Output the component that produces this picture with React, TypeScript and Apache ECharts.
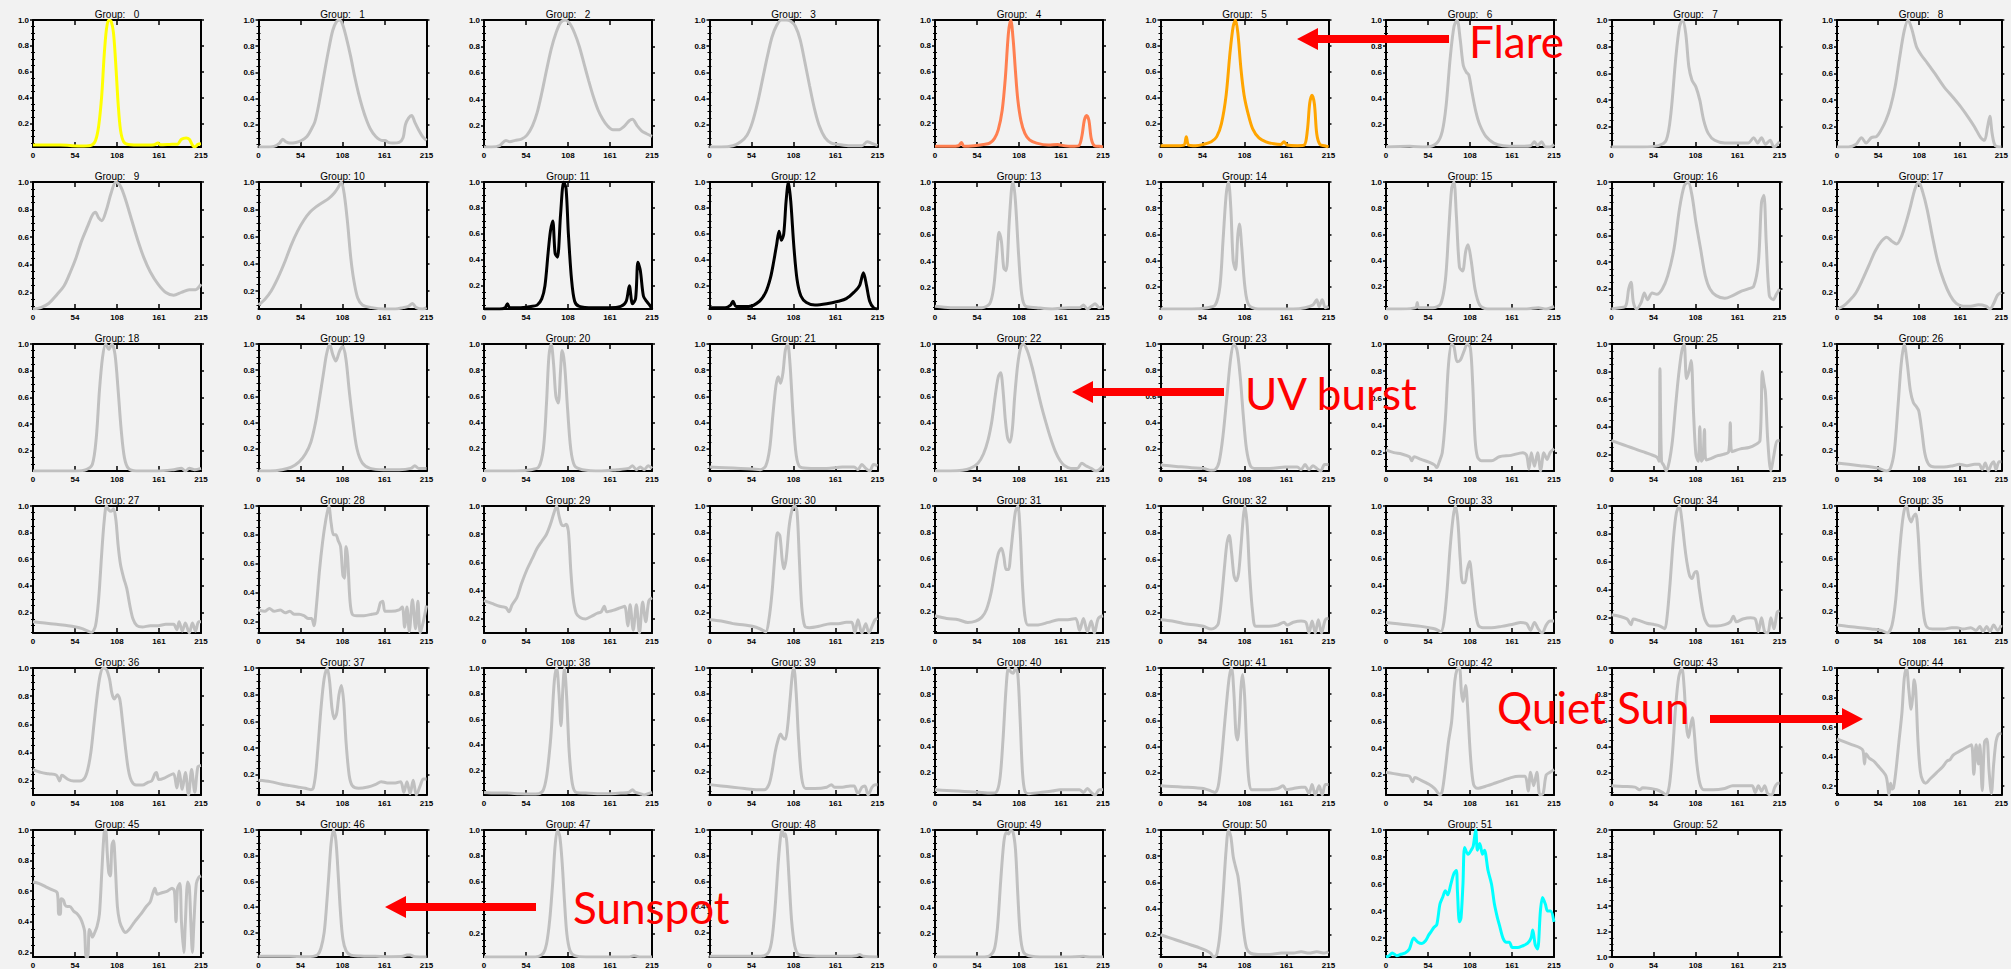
import React, { useEffect, useRef } from "react";
import * as echarts from "echarts";

// ---------- tick values / labels ----------
const X_TICKS = [0, 53.75, 107.5, 161.25, 215];
const X_TICK_LABELS = ["0", "54", "108", "161", "215"];
const Y_TICKS = [0.2, 0.4, 0.6, 0.8, 1.0];
const Y_TICKS_EMPTY = [1.0, 1.2, 1.4, 1.6, 1.8, 2.0];

// ---------- profiles: [index, normalised intensity] ----------
const G0 = [[0,0.035],[20,0.035],[35,0.036],[50,0.03],[65,0.028],[75,0.034],[80,0.07],[84,0.18],[88,0.42],[91,0.72],[94,0.93],[97,1.0],[100,0.99],[103,0.9],[106,0.65],[109,0.35],[112,0.15],[116,0.06],[122,0.04],[140,0.035],[155,0.038],[160,0.05],[163,0.038],[175,0.04],[185,0.042],[190,0.08],[196,0.09],[200,0.08],[204,0.035],[207,0.02],[211,0.04],[215,0.045]];
const G1 = [[0,0.03],[10,0.03],[20,0.035],[27,0.06],[31,0.09],[35,0.07],[40,0.06],[48,0.065],[55,0.08],[62,0.11],[68,0.17],[72,0.22],[76,0.32],[80,0.45],[85,0.62],[90,0.78],[95,0.92],[100,0.99],[104,1.0],[108,0.96],[113,0.85],[118,0.72],[123,0.57],[128,0.44],[133,0.33],[138,0.24],[143,0.17],[150,0.11],[158,0.08],[162,0.08],[166,0.065],[172,0.06],[180,0.065],[185,0.1],[188,0.2],[192,0.25],[196,0.27],[200,0.22],[205,0.16],[210,0.11],[215,0.08]];
const G2 = [[0,0.04],[10,0.04],[20,0.05],[28,0.09],[33,0.08],[40,0.09],[48,0.1],[55,0.13],[62,0.2],[68,0.3],[74,0.45],[80,0.62],[86,0.78],[92,0.9],[98,0.98],[104,1.0],[110,0.97],[116,0.9],[122,0.8],[128,0.67],[134,0.54],[140,0.42],[146,0.32],[152,0.25],[158,0.2],[165,0.17],[172,0.17],[180,0.2],[186,0.24],[190,0.25],[196,0.2],[202,0.16],[208,0.14],[215,0.12]];
const G3 = [[0,0.03],[15,0.03],[30,0.04],[40,0.07],[48,0.12],[55,0.22],[62,0.38],[68,0.55],[74,0.72],[80,0.87],[86,0.96],[92,1.0],[98,1.0],[104,0.99],[110,0.95],[116,0.85],[122,0.68],[128,0.5],[134,0.33],[140,0.2],[148,0.1],[156,0.06],[165,0.05],[180,0.04],[195,0.04],[202,0.07],[207,0.06],[215,0.04]];
const G4 = [[0,0.02],[20,0.02],[30,0.025],[34,0.05],[37,0.02],[50,0.025],[62,0.035],[70,0.045],[76,0.08],[81,0.15],[86,0.3],[90,0.55],[94,0.9],[97,1.0],[100,0.85],[103,0.6],[106,0.38],[110,0.22],[115,0.12],[121,0.07],[130,0.045],[145,0.03],[157,0.035],[160,0.03],[175,0.02],[184,0.025],[188,0.1],[191,0.22],[194,0.26],[197,0.22],[200,0.08],[204,0.025],[210,0.02],[215,0.015]];
const G5 = [[0,0.03],[20,0.03],[30,0.035],[33,0.1],[36,0.035],[45,0.03],[55,0.04],[65,0.06],[72,0.1],[78,0.2],[84,0.42],[89,0.75],[93,0.95],[96,1.0],[99,0.9],[103,0.62],[107,0.42],[112,0.28],[118,0.16],[126,0.09],[135,0.06],[145,0.045],[154,0.04],[158,0.06],[162,0.035],[175,0.03],[184,0.035],[188,0.15],[191,0.36],[194,0.42],[197,0.35],[200,0.12],[204,0.04],[210,0.03],[215,0.02]];
const G6 = [[0,0.03],[30,0.035],[50,0.03],[65,0.06],[72,0.15],[77,0.35],[82,0.7],[87,0.95],[91,1.0],[95,0.85],[99,0.65],[103,0.6],[106,0.58],[110,0.45],[115,0.3],[120,0.2],[128,0.11],[138,0.06],[150,0.04],[170,0.035],[185,0.04],[190,0.07],[194,0.04],[199,0.07],[204,0.03],[210,0.03],[215,0.05]];
const G7 = [[0,0.05],[20,0.05],[40,0.05],[60,0.06],[70,0.1],[76,0.3],[82,0.7],[87,0.95],[91,1.0],[95,0.9],[99,0.65],[103,0.55],[108,0.5],[113,0.4],[118,0.25],[124,0.15],[132,0.1],[145,0.08],[160,0.08],[175,0.08],[182,0.12],[187,0.08],[192,0.12],[197,0.07],[203,0.1],[208,0.05],[215,0.09]];
const G8 = [[0,0.05],[15,0.05],[25,0.07],[32,0.12],[38,0.08],[45,0.12],[52,0.13],[58,0.18],[64,0.25],[70,0.35],[76,0.5],[82,0.72],[88,0.92],[93,1.0],[98,0.93],[104,0.8],[110,0.74],[118,0.68],[128,0.6],[140,0.5],[152,0.42],[162,0.35],[172,0.27],[180,0.2],[188,0.12],[193,0.1],[197,0.2],[200,0.28],[203,0.15],[207,0.06],[215,0.05]];
const G9 = [[0,0.08],[10,0.09],[20,0.12],[30,0.18],[40,0.25],[48,0.35],[55,0.45],[62,0.57],[70,0.68],[76,0.76],[80,0.78],[84,0.74],[88,0.72],[94,0.8],[100,0.92],[106,1.0],[112,0.97],[118,0.88],[126,0.73],[134,0.58],[142,0.45],[150,0.35],[160,0.26],[170,0.2],[180,0.18],[190,0.2],[200,0.22],[208,0.22],[215,0.26]];
const G10 = [[0,0.1],[8,0.14],[16,0.2],[25,0.3],[34,0.42],[42,0.54],[50,0.64],[58,0.72],[66,0.78],[74,0.82],[82,0.85],[90,0.88],[97,0.92],[102,0.96],[106,1.0],[110,0.9],[114,0.7],[118,0.45],[122,0.28],[127,0.15],[133,0.1],[145,0.08],[160,0.07],[175,0.07],[185,0.08],[192,0.09],[197,0.11],[202,0.08],[210,0.07],[215,0.08]];
const G11 = [[0,0.02],[20,0.02],[27,0.03],[30,0.06],[33,0.03],[45,0.03],[60,0.04],[68,0.05],[74,0.1],[78,0.2],[82,0.45],[85,0.62],[88,0.7],[91,0.45],[94,0.42],[98,0.75],[102,1.0],[105,0.95],[108,0.6],[112,0.25],[116,0.08],[122,0.04],[140,0.03],[160,0.03],[175,0.04],[182,0.08],[186,0.2],[190,0.06],[194,0.1],[197,0.38],[200,0.32],[204,0.12],[208,0.08],[212,0.05],[215,0.02]];
const G12 = [[0,0.03],[20,0.03],[27,0.05],[30,0.08],[34,0.04],[50,0.04],[64,0.08],[72,0.15],[78,0.26],[82,0.38],[86,0.52],[89,0.62],[92,0.55],[95,0.6],[98,0.85],[101,1.0],[104,0.85],[108,0.5],[112,0.25],[117,0.12],[124,0.07],[135,0.05],[150,0.06],[165,0.08],[175,0.1],[185,0.15],[192,0.2],[197,0.3],[201,0.2],[205,0.08],[210,0.03],[215,0.02]];
const G13 = [[0,0.06],[20,0.05],[40,0.05],[60,0.05],[70,0.08],[75,0.2],[79,0.45],[82,0.62],[85,0.55],[88,0.35],[91,0.33],[95,0.7],[98,0.95],[100,1.0],[103,0.85],[107,0.45],[111,0.15],[116,0.06],[130,0.05],[150,0.04],[170,0.05],[185,0.05],[190,0.07],[195,0.04],[200,0.06],[205,0.08],[210,0.05],[215,0.06]];
const G14 = [[0,0.03],[20,0.03],[40,0.03],[60,0.04],[70,0.06],[76,0.2],[80,0.55],[84,0.9],[87,1.0],[90,0.8],[93,0.4],[96,0.33],[99,0.6],[101,0.68],[104,0.5],[108,0.2],[113,0.06],[125,0.03],[150,0.03],[170,0.03],[185,0.04],[195,0.06],[200,0.1],[203,0.05],[207,0.1],[211,0.04],[215,0.05]];
const G15 = [[0,0.03],[20,0.03],[38,0.04],[40,0.08],[42,0.04],[60,0.04],[70,0.07],[76,0.25],[80,0.6],[84,0.95],[87,1.0],[90,0.75],[94,0.35],[98,0.32],[102,0.47],[105,0.52],[109,0.4],[114,0.18],[120,0.06],[130,0.03],[160,0.03],[180,0.03],[195,0.04],[205,0.03],[215,0.05]];
const G16 = [[0,0.05],[10,0.06],[18,0.07],[22,0.2],[25,0.25],[28,0.1],[32,0.05],[38,0.1],[42,0.17],[46,0.12],[52,0.17],[58,0.16],[65,0.2],[72,0.3],[80,0.5],[87,0.8],[93,0.97],[98,1.0],[103,0.9],[108,0.7],[114,0.5],[120,0.3],[126,0.2],[134,0.15],[145,0.13],[155,0.15],[165,0.18],[175,0.2],[182,0.22],[188,0.4],[192,0.85],[195,0.9],[198,0.55],[202,0.15],[207,0.12],[211,0.16],[215,0.2]];
const G17 = [[0,0.08],[8,0.1],[16,0.14],[25,0.2],[34,0.3],[42,0.4],[50,0.5],[58,0.57],[65,0.6],[72,0.57],[78,0.55],[84,0.6],[90,0.7],[96,0.82],[102,0.95],[107,1.0],[112,0.93],[118,0.8],[125,0.6],[132,0.42],[140,0.28],[148,0.18],[156,0.12],[165,0.1],[175,0.1],[185,0.11],[195,0.1],[200,0.08],[205,0.12],[210,0.18],[215,0.2]];
const G18 = [[0,0.05],[20,0.05],[40,0.05],[55,0.05],[68,0.06],[76,0.1],[81,0.3],[85,0.65],[89,0.9],[93,1.0],[97,0.96],[101,1.0],[105,0.92],[109,0.65],[113,0.35],[117,0.15],[122,0.07],[132,0.05],[160,0.05],[180,0.06],[190,0.07],[195,0.05],[200,0.07],[207,0.06],[215,0.07]];
const G19 = [[0,0.03],[15,0.03],[30,0.04],[42,0.06],[52,0.1],[60,0.16],[67,0.25],[73,0.4],[78,0.58],[83,0.77],[87,0.92],[91,1.0],[95,0.92],[99,0.87],[104,0.95],[108,0.98],[112,0.88],[116,0.65],[121,0.4],[126,0.2],[133,0.09],[143,0.05],[160,0.04],[180,0.04],[195,0.05],[200,0.07],[205,0.05],[215,0.05]];
const G20 = [[0,0.03],[20,0.03],[40,0.03],[60,0.04],[70,0.06],[76,0.2],[80,0.55],[83,0.9],[86,1.0],[89,0.85],[92,0.6],[95,0.55],[98,0.8],[100,0.95],[103,0.85],[107,0.5],[111,0.2],[116,0.07],[126,0.04],[150,0.03],[170,0.04],[185,0.05],[190,0.07],[195,0.04],[200,0.06],[205,0.04],[210,0.07],[215,0.05]];
const G21 = [[0,0.06],[20,0.055],[40,0.05],[55,0.045],[65,0.04],[72,0.07],[77,0.2],[81,0.45],[85,0.68],[88,0.75],[91,0.7],[94,0.78],[97,0.95],[100,1.0],[103,0.85],[107,0.45],[111,0.15],[116,0.06],[130,0.05],[150,0.05],[170,0.06],[185,0.06],[190,0.04],[195,0.08],[200,0.05],[205,0.03],[210,0.08],[215,0.07]];
const G22 = [[0,0.03],[20,0.03],[35,0.035],[45,0.05],[55,0.09],[62,0.16],[68,0.27],[73,0.42],[77,0.6],[81,0.75],[84,0.78],[87,0.65],[90,0.42],[93,0.28],[96,0.25],[99,0.35],[102,0.6],[106,0.85],[110,0.98],[113,1.0],[118,0.95],[124,0.83],[130,0.68],[136,0.53],[142,0.4],[148,0.28],[154,0.18],[160,0.11],[166,0.07],[174,0.05],[182,0.05],[188,0.09],[193,0.07],[200,0.05],[206,0.03],[210,0.04],[215,0.07]];
const G23 = [[0,0.075],[20,0.065],[40,0.055],[55,0.05],[65,0.035],[70,0.04],[75,0.1],[80,0.3],[85,0.6],[90,0.9],[94,1.0],[98,0.95],[102,0.75],[106,0.45],[110,0.2],[115,0.07],[120,0.05],[140,0.05],[160,0.06],[175,0.06],[180,0.04],[185,0.08],[190,0.04],[195,0.07],[200,0.05],[205,0.03],[210,0.08],[215,0.08]];
const G24 = [[0,0.22],[10,0.2],[20,0.19],[30,0.17],[33,0.14],[36,0.17],[45,0.15],[55,0.13],[62,0.11],[65,0.09],[68,0.13],[72,0.2],[76,0.45],[80,0.85],[84,1.0],[87,0.98],[91,0.87],[95,0.88],[100,0.95],[104,1.0],[108,0.97],[111,0.7],[114,0.3],[117,0.17],[122,0.14],[135,0.14],[145,0.17],[160,0.18],[175,0.2],[180,0.18],[183,0.08],[186,0.2],[190,0.1],[194,0.2],[198,0.065],[202,0.2],[206,0.15],[210,0.2],[215,0.23]];
const G25 = [[0,0.3],[10,0.28],[20,0.26],[30,0.24],[40,0.22],[50,0.2],[58,0.18],[61,0.15],[62,0.82],[64,0.15],[67,0.12],[70,0.08],[74,0.15],[78,0.3],[82,0.55],[86,0.78],[90,0.95],[93,1.0],[96,0.75],[99,0.8],[102,0.88],[105,0.5],[108,0.2],[111,0.15],[113,0.4],[115,0.15],[117,0.17],[119,0.38],[121,0.16],[127,0.17],[135,0.19],[143,0.2],[150,0.22],[152,0.43],[154,0.22],[165,0.24],[176,0.25],[184,0.27],[190,0.3],[193,0.8],[195,0.72],[197,0.65],[200,0.3],[204,0.08],[208,0.2],[212,0.3],[215,0.3]];
const G26 = [[0,0.11],[15,0.1],[30,0.09],[45,0.08],[55,0.07],[65,0.05],[70,0.07],[75,0.2],[80,0.55],[84,0.85],[88,1.0],[92,0.85],[96,0.65],[100,0.56],[104,0.53],[107,0.5],[111,0.35],[115,0.18],[120,0.1],[128,0.08],[140,0.08],[152,0.09],[160,0.1],[170,0.09],[180,0.1],[186,0.1],[190,0.06],[194,0.11],[198,0.05],[202,0.1],[205,0.12],[208,0.06],[212,0.12],[215,0.12]];
const G27 = [[0,0.13],[15,0.12],[30,0.11],[45,0.1],[55,0.09],[62,0.08],[70,0.06],[75,0.05],[80,0.1],[84,0.3],[88,0.65],[91,0.88],[94,1.0],[97,0.97],[100,0.96],[103,0.98],[106,0.9],[109,0.7],[112,0.56],[116,0.46],[120,0.38],[124,0.25],[128,0.15],[133,0.1],[140,0.09],[150,0.1],[160,0.1],[170,0.11],[180,0.11],[184,0.07],[187,0.13],[191,0.06],[195,0.12],[200,0.045],[204,0.12],[208,0.06],[212,0.13],[215,0.13]];
const G28 = [[0,0.28],[8,0.27],[14,0.29],[20,0.27],[28,0.28],[34,0.26],[40,0.27],[46,0.25],[52,0.25],[58,0.24],[64,0.22],[68,0.22],[71,0.17],[74,0.3],[78,0.55],[82,0.75],[86,0.9],[90,1.0],[93,0.88],[96,0.8],[99,0.8],[102,0.76],[105,0.72],[108,0.52],[110,0.5],[112,0.72],[114,0.65],[117,0.35],[120,0.25],[126,0.24],[135,0.24],[145,0.25],[152,0.26],[156,0.33],[159,0.34],[162,0.27],[170,0.27],[180,0.28],[184,0.3],[187,0.16],[190,0.3],[193,0.13],[197,0.35],[201,0.15],[204,0.34],[207,0.12],[211,0.2],[215,0.31]];
const G29 = [[0,0.33],[10,0.31],[20,0.29],[28,0.28],[32,0.25],[36,0.3],[42,0.35],[48,0.45],[55,0.55],[62,0.63],[68,0.7],[74,0.75],[80,0.8],[85,0.87],[90,0.96],[93,1.0],[96,0.93],[99,0.87],[102,0.86],[105,0.87],[108,0.82],[111,0.55],[114,0.35],[118,0.24],[123,0.21],[130,0.2],[138,0.22],[145,0.24],[150,0.25],[154,0.29],[157,0.25],[165,0.26],[175,0.28],[180,0.29],[184,0.15],[187,0.3],[191,0.12],[195,0.3],[199,0.1],[203,0.32],[207,0.18],[211,0.33],[215,0.35]];
const G30 = [[0,0.15],[15,0.14],[30,0.12],[45,0.11],[55,0.1],[65,0.08],[72,0.06],[76,0.15],[80,0.35],[84,0.65],[87,0.8],[90,0.78],[93,0.6],[95,0.53],[98,0.6],[102,0.85],[106,0.98],[109,1.0],[112,0.96],[115,0.6],[118,0.25],[122,0.1],[128,0.09],[140,0.1],[155,0.12],[165,0.12],[175,0.13],[182,0.13],[186,0.05],[190,0.15],[195,0.05],[200,0.12],[204,0.05],[208,0.1],[212,0.15],[215,0.16]];
const G31 = [[0,0.17],[15,0.15],[30,0.14],[42,0.12],[52,0.13],[60,0.16],[66,0.22],[72,0.35],[77,0.52],[81,0.64],[85,0.68],[88,0.62],[91,0.52],[94,0.52],[97,0.65],[100,0.82],[103,0.96],[106,1.0],[109,0.8],[112,0.4],[115,0.17],[119,0.1],[130,0.1],[145,0.12],[158,0.14],[170,0.14],[180,0.15],[185,0.06],[190,0.15],[195,0.05],[200,0.13],[204,0.04],[209,0.15],[215,0.17]];
const G32 = [[0,0.15],[15,0.14],[30,0.12],[45,0.11],[55,0.1],[65,0.08],[70,0.09],[74,0.12],[78,0.3],[82,0.55],[85,0.72],[88,0.78],[91,0.65],[94,0.48],[97,0.44],[100,0.5],[103,0.7],[106,0.92],[108,1.0],[111,0.85],[114,0.5],[118,0.2],[122,0.1],[135,0.1],[150,0.11],[158,0.13],[162,0.11],[170,0.13],[180,0.14],[186,0.13],[190,0.05],[194,0.14],[198,0.05],[202,0.15],[206,0.05],[211,0.15],[215,0.16]];
const G33 = [[0,0.12],[15,0.11],[30,0.1],[45,0.09],[55,0.08],[63,0.07],[70,0.05],[74,0.12],[78,0.35],[82,0.68],[86,0.92],[89,1.0],[92,0.88],[95,0.6],[98,0.42],[101,0.42],[104,0.52],[107,0.58],[110,0.45],[114,0.22],[118,0.1],[124,0.08],[135,0.08],[148,0.09],[157,0.1],[165,0.11],[172,0.12],[180,0.11],[185,0.06],[190,0.12],[195,0.07],[200,0.04],[205,0.1],[210,0.13],[215,0.13]];
const G34 = [[0,0.22],[10,0.21],[20,0.19],[25,0.15],[28,0.19],[35,0.18],[45,0.16],[55,0.15],[62,0.14],[68,0.12],[71,0.2],[75,0.45],[79,0.75],[83,0.95],[87,1.0],[90,0.9],[94,0.7],[97,0.58],[100,0.5],[103,0.48],[106,0.52],[109,0.53],[112,0.42],[116,0.27],[120,0.18],[126,0.14],[135,0.14],[145,0.15],[152,0.17],[156,0.21],[160,0.17],[168,0.19],[178,0.2],[184,0.19],[188,0.1],[192,0.2],[196,0.1],[200,0.09],[204,0.2],[208,0.12],[212,0.24],[215,0.25]];
const G35 = [[0,0.1],[15,0.09],[30,0.08],[45,0.07],[58,0.06],[66,0.04],[72,0.1],[77,0.3],[81,0.6],[85,0.85],[88,0.97],[91,1.0],[94,0.92],[97,0.88],[100,0.92],[103,0.94],[106,0.8],[109,0.5],[113,0.2],[117,0.09],[125,0.07],[140,0.07],[150,0.08],[157,0.08],[165,0.07],[175,0.08],[182,0.06],[187,0.09],[191,0.05],[196,0.09],[200,0.05],[205,0.1],[210,0.06],[215,0.1]];
const G36 = [[0,0.28],[10,0.26],[20,0.25],[30,0.24],[34,0.2],[37,0.24],[45,0.21],[52,0.2],[60,0.2],[66,0.22],[70,0.28],[74,0.4],[78,0.6],[82,0.8],[86,0.95],[90,1.0],[94,0.99],[98,0.92],[101,0.82],[104,0.78],[108,0.81],[111,0.78],[114,0.65],[118,0.45],[122,0.28],[126,0.2],[132,0.17],[140,0.17],[147,0.19],[152,0.2],[156,0.25],[158,0.26],[161,0.21],[168,0.22],[175,0.24],[180,0.25],[184,0.15],[187,0.27],[191,0.14],[195,0.26],[199,0.1],[203,0.28],[207,0.12],[211,0.3],[215,0.31]];
const G37 = [[0,0.16],[15,0.15],[30,0.13],[40,0.12],[50,0.11],[60,0.1],[67,0.09],[70,0.1],[73,0.2],[76,0.4],[80,0.7],[84,0.92],[88,1.0],[91,0.9],[94,0.7],[97,0.62],[100,0.66],[103,0.8],[106,0.87],[109,0.75],[112,0.45],[116,0.2],[120,0.12],[128,0.1],[140,0.11],[150,0.13],[157,0.15],[165,0.14],[175,0.14],[182,0.15],[186,0.07],[190,0.15],[194,0.06],[198,0.16],[202,0.05],[207,0.12],[211,0.17],[215,0.17]];
const G38 = [[0,0.03],[15,0.025],[30,0.025],[45,0.02],[60,0.018],[70,0.02],[76,0.05],[80,0.15],[83,0.3],[86,0.5],[90,0.9],[93,1.0],[96,0.8],[98.5,0.55],[101,0.85],[103,1.0],[106,0.75],[109,0.35],[113,0.1],[118,0.03],[130,0.025],[145,0.02],[160,0.02],[175,0.025],[185,0.03],[190,0.05],[194,0.03],[200,0.02],[205,0.01],[210,0.02],[215,0.03]];
const G39 = [[0,0.1],[15,0.09],[30,0.08],[45,0.07],[60,0.06],[70,0.06],[76,0.1],[80,0.2],[84,0.35],[88,0.45],[91,0.49],[94,0.46],[97,0.45],[100,0.55],[103,0.75],[106,0.95],[108,1.0],[111,0.8],[114,0.45],[118,0.15],[123,0.07],[135,0.07],[150,0.08],[156,0.1],[160,0.08],[170,0.08],[180,0.09],[185,0.09],[190,0.03],[195,0.08],[199,0.09],[203,0.02],[208,0.08],[212,0.1],[215,0.1]];
const G40 = [[0,0.07],[15,0.065],[30,0.06],[45,0.055],[60,0.05],[70,0.045],[78,0.05],[83,0.15],[87,0.45],[91,0.85],[94,1.0],[97,0.97],[100,0.96],[103,1.0],[106,0.95],[109,0.6],[112,0.2],[115,0.06],[120,0.04],[135,0.05],[150,0.06],[160,0.07],[175,0.07],[185,0.07],[190,0.05],[195,0.08],[200,0.05],[205,0.03],[210,0.07],[215,0.07]];
const G41 = [[0,0.1],[15,0.095],[30,0.09],[45,0.085],[55,0.08],[65,0.06],[70,0.05],[74,0.1],[78,0.3],[81,0.5],[84,0.7],[88,0.93],[91,1.0],[94,0.8],[96.5,0.5],[98.5,0.45],[101,0.6],[103,0.85],[105,0.95],[107.5,0.8],[110,0.45],[113,0.15],[117,0.07],[135,0.07],[150,0.08],[157,0.1],[161,0.07],[170,0.08],[180,0.09],[185,0.09],[190,0.04],[194,0.11],[198,0.03],[203,0.1],[207,0.03],[211,0.11],[215,0.11]];
const G42 = [[0,0.22],[10,0.21],[20,0.2],[30,0.19],[34,0.15],[37,0.18],[45,0.16],[55,0.13],[62,0.1],[66,0.07],[69,0.05],[72,0.08],[76,0.25],[80,0.45],[84,0.6],[88,0.9],[91,0.99],[94,1.0],[96.5,0.82],[98.5,0.75],[100.5,0.82],[102,0.87],[104.5,0.7],[108,0.35],[112,0.13],[117,0.1],[130,0.12],[140,0.14],[150,0.16],[160,0.18],[170,0.19],[178,0.19],[182,0.08],[185,0.22],[189,0.12],[193,0.22],[197,0.05],[201,0.06],[205,0.2],[210,0.22],[215,0.24]];
const G43 = [[0,0.1],[15,0.095],[30,0.09],[36,0.07],[40,0.085],[50,0.08],[58,0.07],[65,0.05],[70,0.03],[74,0.1],[78,0.35],[82,0.7],[86,0.93],[90,1.0],[93,0.85],[96,0.55],[98.5,0.47],[101,0.55],[103.5,0.62],[106,0.5],[109,0.28],[113,0.12],[118,0.07],[130,0.07],[145,0.08],[155,0.1],[160,0.1],[170,0.1],[180,0.1],[184,0.05],[188,0.1],[192,0.06],[196,0.1],[200,0.04],[205,0.03],[209,0.09],[213,0.12],[215,0.12]];
const G44 = [[0,0.52],[10,0.5],[20,0.48],[30,0.46],[34,0.44],[36,0.35],[38,0.42],[42,0.39],[45,0.38],[48,0.37],[55,0.33],[60,0.3],[64,0.27],[66,0.22],[68,0.14],[70,0.22],[72,0.18],[74,0.19],[77,0.3],[81,0.5],[85,0.7],[88,0.93],[91,1.0],[94,0.85],[97,0.72],[99,0.8],[101,0.92],[103,0.85],[106,0.5],[109,0.3],[112,0.24],[116,0.22],[122,0.25],[130,0.29],[138,0.33],[144,0.37],[148,0.38],[152,0.41],[158,0.43],[165,0.45],[172,0.47],[176,0.48],[179,0.28],[182,0.48],[185,0.35],[187,0.48],[190,0.17],[193,0.5],[196,0.52],[199,0.3],[202,0.15],[205,0.35],[208,0.5],[211,0.55],[215,0.56]];
const G45 = [[0,0.66],[8,0.65],[16,0.63],[24,0.61],[31,0.59],[33,0.45],[35,0.45],[36,0.55],[39,0.54],[41,0.51],[44,0.5],[47,0.5],[52,0.47],[57,0.45],[61,0.42],[64,0.38],[66,0.34],[68,0.17],[70,0.17],[72,0.35],[74,0.33],[76,0.3],[79,0.33],[82,0.37],[85,0.45],[88,0.72],[91,0.98],[93,1.0],[95,0.85],[97,0.72],[99,0.7],[101,0.9],[103,0.93],[105,0.8],[108,0.5],[111,0.4],[115,0.35],[118,0.33],[123,0.35],[130,0.4],[138,0.45],[145,0.5],[150,0.53],[153,0.58],[156,0.62],[159,0.58],[165,0.59],[172,0.6],[178,0.62],[181,0.6],[183,0.4],[185,0.62],[188,0.65],[190,0.4],[193,0.2],[195,0.4],[198,0.66],[200,0.63],[202,0.4],[204,0.2],[206,0.4],[209,0.65],[212,0.69],[215,0.7]];
const G46 = [[0,0.015],[20,0.015],[40,0.015],[60,0.012],[70,0.015],[76,0.03],[80,0.08],[84,0.2],[87,0.4],[90,0.65],[93,0.9],[96,1.0],[99,0.92],[102,0.65],[105,0.35],[108,0.15],[112,0.06],[118,0.025],[130,0.018],[150,0.015],[170,0.012],[185,0.015],[190,0.025],[194,0.025],[200,0.012],[215,0.01]];
const G47 = [[0,0.02],[20,0.02],[40,0.02],[60,0.02],[70,0.025],[76,0.05],[80,0.12],[84,0.3],[88,0.6],[91,0.88],[94,1.0],[97,0.95],[100,0.75],[103,0.45],[106,0.2],[110,0.07],[116,0.03],[130,0.02],[160,0.02],[185,0.02],[192,0.03],[200,0.02],[215,0.02]];
const G48 = [[0,0.015],[20,0.015],[40,0.015],[60,0.015],[70,0.02],[76,0.05],[80,0.15],[84,0.4],[88,0.75],[91,0.95],[93,1.0],[95,0.95],[97,0.97],[99,0.9],[102,0.6],[105,0.3],[109,0.1],[114,0.03],[125,0.02],[150,0.015],[175,0.015],[188,0.02],[192,0.03],[197,0.015],[215,0.01]];
const G49 = [[0,0.02],[20,0.02],[40,0.02],[60,0.02],[70,0.03],[76,0.08],[80,0.25],[84,0.6],[88,0.9],[91,0.98],[94,0.97],[97,1.0],[100,0.98],[103,0.85],[106,0.5],[109,0.2],[113,0.06],[120,0.03],[140,0.02],[170,0.02],[190,0.025],[200,0.02],[215,0.02]];
const G50 = [[0,0.2],[10,0.18],[20,0.16],[30,0.14],[40,0.12],[50,0.1],[58,0.08],[64,0.06],[68,0.03],[72,0.05],[76,0.2],[80,0.5],[84,0.85],[87,1.0],[90,0.95],[93,0.8],[96,0.72],[99,0.65],[102,0.5],[106,0.25],[110,0.1],[115,0.06],[125,0.05],[140,0.05],[155,0.06],[170,0.06],[180,0.07],[190,0.06],[200,0.07],[210,0.06],[215,0.07]];
const G51 = [[0,0.06],[4,0.07],[8,0.09],[13.6,0.07],[19,0.08],[24.5,0.09],[30,0.12],[35.4,0.2],[40.8,0.17],[46,0.16],[50.6,0.18],[54.4,0.22],[58,0.25],[61.5,0.28],[65,0.3],[69,0.45],[72.4,0.5],[76,0.55],[79,0.52],[83,0.6],[87,0.68],[90,0.7],[91.4,0.55],[94,0.32],[96,0.35],[98.5,0.6],[100.7,0.87],[105,0.82],[108.9,0.85],[111.6,0.88],[114.8,1.0],[117,0.85],[120,0.9],[123.5,0.82],[126,0.85],[130.6,0.7],[135,0.6],[138.8,0.45],[142.6,0.35],[145,0.3],[149.7,0.2],[154,0.17],[157.8,0.17],[161.7,0.13],[168.7,0.13],[174,0.14],[181,0.16],[185.6,0.2],[187.8,0.26],[191,0.15],[194,0.12],[197.6,0.4],[200.3,0.5],[204,0.45],[206.8,0.4],[210.6,0.4],[215,0.32]];
const G52: number[][] = [];

const GROUPS = [G0,G1,G2,G3,G4,G5,G6,G7,G8,G9,G10,G11,G12,G13,G14,G15,G16,G17,G18,G19,G20,G21,G22,G23,G24,G25,G26,G27,G28,G29,G30,G31,G32,G33,G34,G35,G36,G37,G38,G39,G40,G41,G42,G43,G44,G45,G46,G47,G48,G49,G50,G51,G52];

const GREY = "#c0c0c0";
const HIGHLIGHT: Record<number, string> = { 0: "#ffff00", 4: "#ff7f50", 5: "#ffa500", 11: "#000000", 12: "#000000", 51: "#00ffff" };

// annotations: label, text anchor, arrow tail / tip x, arrow y
const ANNOTATIONS = [
  { label: "Flare", tx: 1469, ty: 41, tail: 1449, tip: 1297, ay: 39 },
  { label: "UV burst", tx: 1245, ty: 393, tail: 1224, tip: 1072, ay: 392 },
  { label: "Quiet Sun", tx: 1497, ty: 707, tail: 1710, tip: 1863, ay: 719 },
  { label: "Sunspot", tx: 573, ty: 907, tail: 536, tip: 385, ay: 907 },
];

const FONT = '"Liberation Sans", Arial, Helvetica, sans-serif';
const COLS = 9;
const LEFT0 = 33, COLSTEP = 225.5, TOP0 = 20, ROWSTEP = 162, PW = 168, PH = 127;
const NBSP = "\u00a0";

function xLabel(v: number): string {
  let best = 0;
  for (let k = 1; k < X_TICKS.length; k++) if (Math.abs(X_TICKS[k] - v) < Math.abs(X_TICKS[best] - v)) best = k;
  return X_TICK_LABELS[best];
}

function buildOption() {
  const grid: any[] = [], xAxis: any[] = [], yAxis: any[] = [], series: any[] = [], graphic: any[] = [];
  const axisLine = { show: true, onZero: false, lineStyle: { color: "#000", width: 2 } };
  GROUPS.forEach((data, i) => {
    const c = i % COLS, r = Math.floor(i / COLS);
    const left = LEFT0 + c * COLSTEP, top = TOP0 + r * ROWSTEP;
    grid.push({ left, top, width: PW, height: PH, containLabel: false, show: false });
    const empty = data.length === 0;
    const ys = data.map((p) => p[1]);
    const ymin = empty ? 1 : Math.min(...ys);
    const ymax = empty ? 2 : Math.max(...ys);
    const majors = empty ? Y_TICKS_EMPTY.slice() : Y_TICKS.filter((v) => v >= ymin + 0.004);
    const minors: number[] = [];
    for (let k = Math.ceil((ymin + 1e-6) / 0.05); k * 0.05 <= ymax + 1e-6; k++) {
      const v = +(k * 0.05).toFixed(2);
      if (!majors.some((m) => Math.abs(m - v) < 1e-6)) minors.push(v);
    }
    xAxis.push({
      type: "value", gridIndex: i, position: "bottom", min: 0, max: 215,
      axisLine, splitLine: { show: false },
      axisTick: { show: true, inside: true, length: 5, customValues: X_TICKS, lineStyle: { color: "#000", width: 1.5 } },
      axisLabel: { show: true, customValues: X_TICKS, formatter: (v: number) => xLabel(v), fontSize: 8, fontWeight: "bold", fontFamily: FONT, color: "#000", margin: 4 },
    });
    xAxis.push({
      type: "value", gridIndex: i, position: "top", min: 0, max: 215,
      axisLine, splitLine: { show: false },
      axisTick: { show: true, inside: true, length: 5, customValues: X_TICKS.slice(1, -1), lineStyle: { color: "#000", width: 1.5 } },
      axisLabel: { show: false },
    });
    const yBase = { type: "value", gridIndex: i, min: ymin, max: ymax, splitLine: { show: false } };
    yAxis.push({
      ...yBase, position: "left", axisLine,
      axisTick: { show: true, inside: false, length: 3, customValues: majors, lineStyle: { color: "#000", width: 1.5 } },
      axisLabel: { show: true, customValues: majors, formatter: (v: number) => v.toFixed(1), fontSize: 8, fontWeight: "bold", fontFamily: FONT, color: "#000", margin: 4 },
    });
    yAxis.push({
      ...yBase, position: "left", axisLine: { show: false },
      axisTick: { show: true, inside: false, length: 2, customValues: minors, lineStyle: { color: "#000", width: 1 } },
      axisLabel: { show: false },
    });
    yAxis.push({
      ...yBase, position: "right", axisLine,
      axisTick: { show: true, inside: false, length: 3, customValues: majors, lineStyle: { color: "#000", width: 1.5 } },
      axisLabel: { show: false },
    });
    yAxis.push({
      ...yBase, position: "right", axisLine: { show: false },
      axisTick: { show: true, inside: false, length: 2, customValues: minors, lineStyle: { color: "#000", width: 1 } },
      axisLabel: { show: false },
    });
    series.push({
      type: "line", xAxisIndex: 2 * i, yAxisIndex: 4 * i, data,
      symbol: "none", showSymbol: false, smooth: 0.3, silent: true,
      lineStyle: { color: HIGHLIGHT[i] || GREY, width: 3 }, z: 2,
    });
    const num = i < 10 ? NBSP + NBSP + NBSP + String(i) : NBSP + String(i);
    graphic.push({
      type: "text", x: left + PW / 2, y: top - 6, silent: true,
      style: { text: "Group:" + num, fill: "#000", font: `10px ${FONT}`, textAlign: "center", textVerticalAlign: "middle" },
    });
  });

  ANNOTATIONS.forEach((a) => {
    const dir = a.tip < a.tail ? 1 : -1;
    const base = a.tip + dir * 21;
    const hh = 11, sh = 4;
    graphic.push({
      type: "polygon", z: 100, silent: true,
      shape: { points: [[a.tip, a.ay], [base, a.ay - hh], [base, a.ay - sh], [a.tail, a.ay - sh], [a.tail, a.ay + sh], [base, a.ay + sh], [base, a.ay + hh]] },
      style: { fill: "#ff0000" },
    });
    graphic.push({
      type: "text", x: a.tx, y: a.ty, z: 100, silent: true,
      style: { text: a.label, fill: "#ff0000", font: `44px Lato, "Open Sans", sans-serif`, textAlign: "left", textVerticalAlign: "middle" },
    });
  });

  return {
    animation: false,
    backgroundColor: "#f2f2f2",
    grid, xAxis, yAxis, series, graphic,
  };
}

export default function App() {
  const ref = useRef<HTMLDivElement | null>(null);
  useEffect(() => {
    if (!ref.current) return;
    const chart = echarts.init(ref.current, undefined, { renderer: "svg" });
    chart.setOption(buildOption() as any);
    return () => chart.dispose();
  }, []);
  return (
    <div
      ref={ref}
      style={{ position: "fixed", left: 0, top: 0, width: 2011, height: 969, background: "#f2f2f2" }}
    />
  );
}
